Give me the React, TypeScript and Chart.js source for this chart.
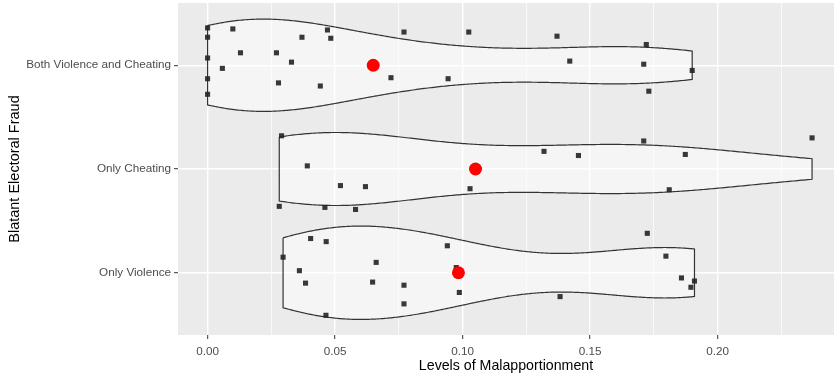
import { useEffect, useRef } from "react";
import { Chart, registerables } from "chart.js";

Chart.register(...registerables);

// Categories, bottom to top (y = 1, 2, 3)
const categories = ["Only Violence", "Only Cheating", "Both Violence and Cheating"];

const bothX = [0, 0, 0, 0, 0, 0.0099, 0.0058, 0.0129, 0.027, 0.0278, 0.0329, 0.037, 0.047, 0.0483, 0.0442, 0.0719, 0.077, 0.0943, 0.1024, 0.137, 0.142, 0.172, 0.171, 0.173, 0.19];
const bothJitter = [0.36, 0.27, 0.07, -0.13, -0.28, 0.35, -0.03, 0.12, 0.12, -0.17, 0.03, 0.27, 0.34, 0.26, -0.2, -0.12, 0.32, -0.13, 0.32, 0.28, 0.04, 0.2, 0.01, -0.25, -0.05];

const cheatX = [0.029, 0.0281, 0.0391, 0.046, 0.0521, 0.058, 0.0619, 0.1029, 0.1319, 0.1454, 0.171, 0.1873, 0.181, 0.237];
const cheatJitter = [0.32, -0.36, 0.03, -0.37, -0.16, -0.39, -0.17, -0.19, 0.17, 0.13, 0.27, 0.14, -0.2, 0.3];

const violX = [0.0296, 0.0404, 0.0465, 0.036, 0.0384, 0.0464, 0.0661, 0.0647, 0.077, 0.077, 0.094, 0.0975, 0.0987, 0.1724, 0.1797, 0.1858, 0.1909, 0.1895, 0.1382];
const violJitter = [0.15, 0.33, 0.3, 0.02, -0.1, -0.41, 0.1, -0.09, -0.12, -0.3, 0.26, 0.05, -0.19, 0.38, 0.16, -0.05, -0.08, -0.14, -0.23];

const xTickLabels = ["0.00", "0.05", "0.10", "0.15", "0.20"];

const groups = [
  { x: violX, j: violJitter },
  { x: cheatX, j: cheatJitter },
  { x: bothX, j: bothJitter },
];

const FONT = "'Liberation Sans', Arial, Helvetica, sans-serif";

function quantile(sorted: number[], p: number) {
  const h = (sorted.length - 1) * p;
  const lo = Math.floor(h);
  const hi = Math.ceil(h);
  return sorted[lo] + (h - lo) * (sorted[hi] - sorted[lo]);
}

function bwNrd0(x: number[]) {
  const n = x.length;
  const mean = x.reduce((a, b) => a + b, 0) / n;
  const sd = Math.sqrt(x.reduce((a, b) => a + (b - mean) ** 2, 0) / (n - 1));
  const s = [...x].sort((a, b) => a - b);
  const iqr = quantile(s, 0.75) - quantile(s, 0.25);
  let lo = Math.min(sd, iqr / 1.34);
  if (!(lo > 0)) lo = sd || Math.abs(s[0]) || 1;
  return 0.9 * lo * Math.pow(n, -0.2);
}

function density(x: number[], n = 256) {
  const bw = bwNrd0(x);
  const min = Math.min(...x);
  const max = Math.max(...x);
  const out: { v: number; d: number }[] = [];
  for (let i = 0; i < n; i++) {
    const v = min + ((max - min) * i) / (n - 1);
    let d = 0;
    for (const xi of x) {
      const z = (v - xi) / bw;
      d += Math.exp(-0.5 * z * z);
    }
    d /= x.length * bw * Math.sqrt(2 * Math.PI);
    out.push({ v, d });
  }
  return out;
}

export default function App() {
  const ref = useRef<HTMLCanvasElement | null>(null);

  useEffect(() => {
    document.body.style.margin = "0";
    if (!ref.current) return;

    const dens = groups.map((g) => density(g.x));
    const maxD = Math.max(...dens.map((d) => Math.max(...d.map((p) => p.d))));

    const violinSets = dens.map((d, gi) => {
      const c = gi + 1;
      const top = d.map((p) => ({ x: p.v, y: c + (0.45 * p.d) / maxD }));
      const bottom = [...d].reverse().map((p) => ({ x: p.v, y: c - (0.45 * p.d) / maxD }));
      const poly = [...top, ...bottom, top[0]];
      return {
        type: "scatter" as const,
        data: poly,
        showLine: true,
        fill: "shape",
        backgroundColor: "rgba(255,255,255,0.5)",
        borderColor: "#333333",
        borderWidth: 1.2,
        pointRadius: 0,
        tension: 0,
        order: 3,
      };
    });

    const pointSet = {
      type: "scatter" as const,
      data: groups.flatMap((g, gi) => g.x.map((x, i) => ({ x, y: gi + 1 + g.j[i] }))),
      pointStyle: "rect",
      pointRadius: 3.6,
      backgroundColor: "rgba(35,35,35,0.9)",
      borderWidth: 0,
      order: 2,
    };

    const meanSet = {
      type: "scatter" as const,
      data: groups.map((g, gi) => ({ x: g.x.reduce((a, b) => a + b, 0) / g.x.length, y: gi + 1 })),
      pointStyle: "circle",
      pointRadius: 6.5,
      backgroundColor: "#FF0000",
      borderWidth: 0,
      order: 1,
    };

    const majors = xTickLabels.map((t) => parseFloat(t));
    const step = majors[1] - majors[0];
    const xTicks: number[] = [];
    majors.forEach((m) => {
      xTicks.push(m);
      xTicks.push(m + step / 2);
    });
    const isMajor = (v: number) => majors.some((m) => Math.abs(m - v) < 1e-9);

    const panelBg = {
      id: "panelBg",
      beforeDraw(chart: any) {
        const { ctx, chartArea: a } = chart;
        ctx.save();
        ctx.fillStyle = "#EBEBEB";
        ctx.fillRect(a.left, a.top, a.right - a.left, a.bottom - a.top);
        ctx.restore();
      },
    };

    const chart = new Chart(ref.current, {
      type: "scatter",
      data: { datasets: [meanSet, pointSet, ...violinSets] as any },
      plugins: [panelBg],
      options: {
        animation: false,
        responsive: false,
        layout: { autoPadding: false, padding: { top: 3, right: 0, left: 0, bottom: 0 } },
        plugins: { legend: { display: false }, tooltip: { enabled: false } },
        scales: {
          x: {
            type: "linear",
            min: -0.0116,
            max: 0.2456,
            afterBuildTicks: (s: any) => {
              s.ticks = xTicks.map((v) => ({ value: v }));
            },
            afterFit: (s: any) => {
              s.height = 41;
              s.paddingLeft = 0;
              s.paddingRight = 0;
            },
            ticks: {
              includeBounds: false,
              autoSkip: false,
              maxRotation: 0,
              padding: 6,
              color: "#4D4D4D",
              font: { family: FONT, size: 11.7 },
              callback: (v: any) => {
                const i = majors.findIndex((m) => Math.abs(m - Number(v)) < 1e-9);
                return i >= 0 ? xTickLabels[i] : "";
              },
            },
            grid: {
              color: "#FFFFFF",
              lineWidth: (c: any) => (c.tick && isMajor(c.tick.value) ? 1.4 : 0.7),
              tickColor: (c: any) => (c.tick && isMajor(c.tick.value) ? "#333333" : "rgba(0,0,0,0)"),
              tickLength: 4,
              tickWidth: 1,
            },
            border: { display: false },
            title: {
              display: true,
              text: "Levels of Malapportionment",
              color: "#000000",
              font: { family: FONT, size: 14.2 },
              padding: { top: 0, bottom: 1 },
            },
          },
          y: {
            type: "linear",
            min: 0.4,
            max: 3.6,
            afterBuildTicks: (s: any) => {
              s.ticks = categories.map((_, i) => ({ value: i + 1 }));
            },
            afterFit: (s: any) => {
              s.width = 178;
              s.paddingTop = 0;
              s.paddingBottom = 0;
            },
            ticks: {
              autoSkip: false,
              padding: 3,
              color: "#4D4D4D",
              font: { family: FONT, size: 11.7 },
              callback: (v: any) => categories[Math.round(Number(v)) - 1] ?? "",
            },
            grid: {
              color: "#FFFFFF",
              lineWidth: 1.4,
              tickColor: "#333333",
              tickLength: 4,
              tickWidth: 1,
            },
            border: { display: false },
            title: {
              display: true,
              text: "Blatant Electoral Fraud",
              color: "#000000",
              font: { family: FONT, size: 14.5 },
              padding: { top: 6, bottom: 0 },
            },
          },
        },
      },
    });

    return () => chart.destroy();
  }, []);

  return (
    <div style={{ width: 834, height: 376 }}>
      <canvas ref={ref} width={834} height={376} />
    </div>
  );
}
